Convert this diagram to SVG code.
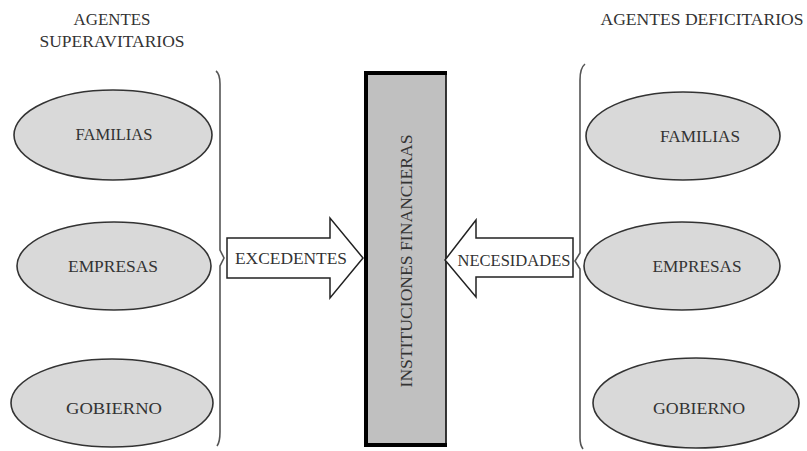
<svg xmlns="http://www.w3.org/2000/svg" width="807" height="451" viewBox="0 0 807 451">
<style>
.t{font-family:"Liberation Serif","Times New Roman",serif;font-size:16px;fill:#333;text-anchor:middle}
.el{fill:#d9d9d9;stroke:#333;stroke-width:1.6}
.br{fill:none;stroke:#555;stroke-width:1.6}
.ar{fill:#fff;stroke:#222;stroke-width:1.5}
</style>
<rect width="807" height="451" fill="#fff"/>
<g id="title-left">
<text class="t" x="112" y="25" textLength="77" lengthAdjust="spacingAndGlyphs">AGENTES</text>
<text class="t" x="112" y="47" textLength="145" lengthAdjust="spacingAndGlyphs">SUPERAVITARIOS</text>
</g>
<g id="title-right">
<text class="t" x="702" y="25" textLength="203" lengthAdjust="spacingAndGlyphs">AGENTES DEFICITARIOS</text>
</g>
<g id="l-familias"><ellipse class="el" cx="113" cy="135" rx="99" ry="45"/><text class="t" x="114" y="140" textLength="77" lengthAdjust="spacingAndGlyphs">FAMILIAS</text></g>
<g id="l-empresas"><ellipse class="el" cx="114" cy="266" rx="97" ry="44"/><text class="t" x="113" y="272" textLength="90" lengthAdjust="spacingAndGlyphs">EMPRESAS</text></g>
<g id="l-gobierno"><ellipse class="el" cx="112" cy="403" rx="101" ry="44"/><text class="t" x="114" y="414" textLength="96" lengthAdjust="spacingAndGlyphs">GOBIERNO</text></g>
<g id="r-familias"><ellipse class="el" cx="683" cy="136" rx="97" ry="44"/><text class="t" x="700" y="142" textLength="80" lengthAdjust="spacingAndGlyphs">FAMILIAS</text></g>
<g id="r-empresas"><ellipse class="el" cx="682" cy="266" rx="98" ry="44"/><text class="t" x="697" y="272" textLength="89" lengthAdjust="spacingAndGlyphs">EMPRESAS</text></g>
<g id="r-gobierno"><ellipse class="el" cx="696" cy="403" rx="103" ry="45"/><text class="t" x="699" y="414" textLength="92" lengthAdjust="spacingAndGlyphs">GOBIERNO</text></g>
<g id="instituciones">
<rect x="364" y="72" width="82" height="374" fill="#c0c0c0"/>
<path d="M446 72 V446" stroke="#222" stroke-width="1.8" fill="none"/>
<path d="M447 73 H366 V445 H447" stroke="#000" stroke-width="4" fill="none"/>
<text class="t" style="font-size:17px" transform="translate(412,261) rotate(-90)" textLength="253" lengthAdjust="spacingAndGlyphs">INSTITUCIONES FINANCIERAS</text>
</g>
<g id="connectors">
<path class="br" d="M216 71 Q220 74 220 84 V250 L224 258 L220 266 V432 Q220 442 217 446"/>
<path class="br" d="M585 64 Q580 68 580 80 V253 L575 261 L580 269 V438 Q580 445 583 449"/>
<path class="ar" d="M227 238 H330 V218 L363 258 L330 298 V278 H227 Z"/>
<path class="ar" d="M573 238 H476 V220 L445 260 L476 297 V277 H573 Z"/>
</g>
<g id="arrow-labels">
<text class="t" x="291" y="264" textLength="112" lengthAdjust="spacingAndGlyphs">EXCEDENTES</text>
<text class="t" x="514" y="266" textLength="113" lengthAdjust="spacingAndGlyphs">NECESIDADES</text>
</g>
</svg>
